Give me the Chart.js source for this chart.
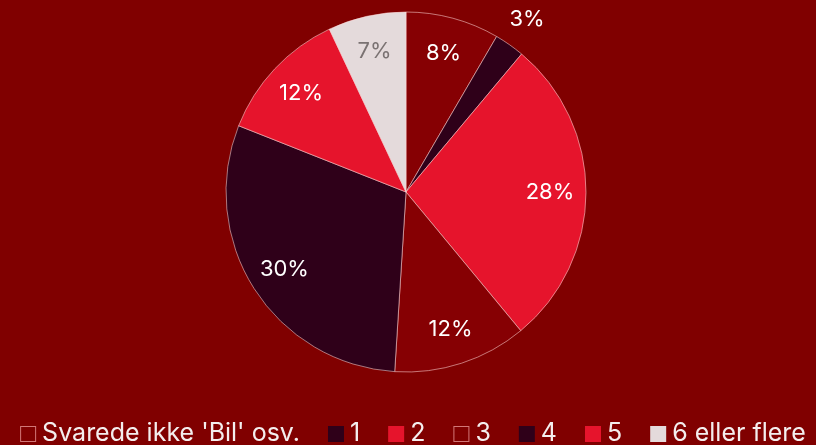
<!DOCTYPE html>
<html>
<head>
<meta charset="utf-8">
<script src="https://cdn.jsdelivr.net/npm/chart.js@4/dist/chart.umd.min.js"></script>
<style>
  html, body { margin: 0; padding: 0; background: #800000; }
  #wrap { width: 816px; height: 445px; }
</style>
</head>
<body>
<div id="wrap"><canvas id="c" width="816" height="445"></canvas></div>
<script>
const categories = ["Svarede ikke 'Bil' osv.", "1", "2", "3", "4", "5", "6 eller flere"];
const shares = [8.4, 2.7, 27.9, 12, 30, 12, 7];
const valueLabels = ["8%", "3%", "28%", "12%", "30%", "12%", "7%"];

const BG = '#800000';
const sliceColors = ['#860003', '#2f0019', '#e6142c', '#860003', '#2f0019', '#e6142c', '#e4dadb'];
const hollowLegend = [true, false, false, true, false, false, false];
const labelColors = ['#ffffff', '#ffffff', '#ffffff', '#ffffff', '#ffffff', '#ffffff', '#7a7272'];
const FONT = 'Inter, "Open Sans", sans-serif';

const bgPlugin = {
  id: 'bg',
  beforeDraw(chart) {
    const ctx = chart.ctx;
    ctx.save();
    ctx.fillStyle = BG;
    ctx.fillRect(0, 0, chart.width, chart.height);
    ctx.restore();
  }
};

const sliceLabels = {
  id: 'sliceLabels',
  afterDatasetsDraw(chart) {
    const meta = chart.getDatasetMeta(0);
    const ctx = chart.ctx;
    ctx.save();
    ctx.font = '22px ' + FONT;
    ctx.textAlign = 'center';
    ctx.textBaseline = 'middle';
    meta.data.forEach((arc, i) => {
      const p = arc.getProps(['x', 'y', 'startAngle', 'endAngle', 'outerRadius'], true);
      const mid = (p.startAngle + p.endAngle) / 2;
      const small = shares[i] < 5;
      const r = p.outerRadius * (small ? 1.17 : 0.8);
      ctx.fillStyle = labelColors[i];
      ctx.fillText(valueLabels[i], p.x + Math.cos(mid) * r, p.y + Math.sin(mid) * r);
    });
    ctx.restore();
  }
};

// Bottom legend drawn from the chart's own labels and dataset colours
const bottomLegend = {
  id: 'bottomLegend',
  afterDraw(chart) {
    const ctx = chart.ctx;
    const labels = chart.data.labels;
    const colors = chart.data.datasets[0].backgroundColor;
    const box = 16, boxGap = 6, itemGap = 28;
    ctx.save();
    ctx.font = '25px ' + FONT;
    ctx.textBaseline = 'middle';
    ctx.textAlign = 'left';
    const widths = labels.map(t => ctx.measureText(t).width);
    const total = widths.reduce((a, w) => a + box + boxGap + w, 0) + itemGap * (labels.length - 1);
    let x = (chart.width - total) / 2 + 5;
    const cy = 434;
    labels.forEach((t, i) => {
      if (hollowLegend[i]) {
        ctx.fillStyle = BG;
        ctx.fillRect(x, cy - box / 2, box, box);
        ctx.strokeStyle = 'rgba(225,140,140,0.85)';
        ctx.lineWidth = 1;
        ctx.strokeRect(x + 0.5, cy - box / 2 + 0.5, box - 1, box - 1);
      } else {
        ctx.fillStyle = colors[i];
        ctx.fillRect(x, cy - box / 2, box, box);
      }
      x += box + boxGap;
      ctx.fillStyle = '#f4eeee';
      ctx.fillText(t, x, cy - 1);
      x += widths[i] + itemGap;
    });
    ctx.restore();
  }
};

new Chart(document.getElementById('c'), {
  type: 'pie',
  data: {
    labels: categories,
    datasets: [{
      data: shares,
      backgroundColor: sliceColors,
      borderColor: 'rgba(255,215,215,0.55)',
      borderWidth: 1
    }]
  },
  options: {
    responsive: false,
    animation: false,
    radius: 180,
    layout: { padding: { top: 2, bottom: 63, left: 0, right: 4 } },
    plugins: {
      tooltip: { enabled: false },
      legend: { display: false }
    }
  },
  plugins: [bgPlugin, sliceLabels, bottomLegend]
});
</script>
</body>
</html>
